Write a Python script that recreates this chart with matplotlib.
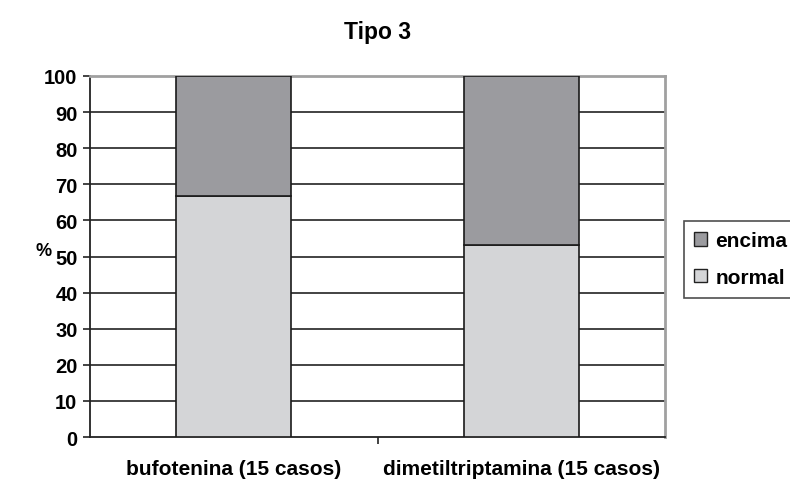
import matplotlib.pyplot as plt
from matplotlib.patches import Patch

plt.rcParams["font.family"] = ["Liberation Sans", "DejaVu Sans"]
plt.rcParams["font.weight"] = "bold"

categories = ["bufotenina (15 casos)", "dimetiltriptamina (15 casos)"]
normal = [66.7, 53.3]
encima = [33.3, 46.7]
yticks = [0, 10, 20, 30, 40, 50, 60, 70, 80, 90, 100]

c_normal = "#d4d5d7"
c_encima = "#9b9b9f"

fig = plt.figure(figsize=(7.9, 4.81), dpi=100)
ax = fig.add_axes([90 / 790, 1 - 438 / 481, 575 / 790, 361 / 481])

pos = [0.5, 1.5]
ax.bar(pos, normal, width=0.4, color=c_normal, edgecolor="#1a1a1a", linewidth=1.2, zorder=3)
ax.bar(pos, encima, bottom=normal, width=0.4, color=c_encima, edgecolor="#1a1a1a",
       linewidth=1.2, zorder=3)

ax.set_xlim(0, 2)
ax.set_ylim(0, 100)
ax.set_yticks(yticks)
ax.set_yticklabels([str(t) for t in yticks], fontsize=14.5, fontweight="bold")
for t in yticks[1:-1]:
    ax.axhline(t, color="#222222", linewidth=1.2, zorder=1)

ax.set_xticks([1])
ax.set_xticklabels([""])
ax.set_xticks(pos, minor=True)
ax.set_xticklabels(categories, minor=True, fontsize=15, fontweight="bold")
ax.tick_params(axis="x", which="minor", length=0, pad=16)
ax.tick_params(axis="x", which="major", length=5, width=1.2, color="#222222")
ax.tick_params(axis="y", length=5, width=1.2, color="#222222", pad=4)

ax.spines["left"].set_color("#222222")
ax.spines["left"].set_linewidth(1.3)
ax.spines["bottom"].set_color("#222222")
ax.spines["bottom"].set_linewidth(1.3)
ax.spines["top"].set_color("#a0a0a0")
ax.spines["top"].set_linewidth(2)
ax.spines["right"].set_color("#a0a0a0")
ax.spines["right"].set_linewidth(2)

fig.text(378 / 790, 1 - 32 / 481, "Tipo 3", ha="center", va="center", fontsize=16.5, fontweight="bold")
fig.text(44 / 790, 1 - 252 / 481, "%", ha="center", va="center", fontsize=13, fontweight="bold")

handles = [Patch(facecolor=c_encima, edgecolor="#222222", label="encima"),
           Patch(facecolor=c_normal, edgecolor="#222222", label="normal")]
leg = fig.legend(handles=handles, loc="upper left", bbox_to_anchor=(684 / 790, 1 - 222 / 481),
                 fontsize=15, frameon=True, fancybox=False, handlelength=0.6, handleheight=0.6,
                 handletextpad=0.4, borderpad=0.5, labelspacing=0.85, borderaxespad=0)
leg.get_frame().set_edgecolor("#222222")
leg.get_frame().set_linewidth(1.2)
for t in leg.get_texts():
    t.set_fontweight("bold")

fig.savefig("out.png", dpi=100)
